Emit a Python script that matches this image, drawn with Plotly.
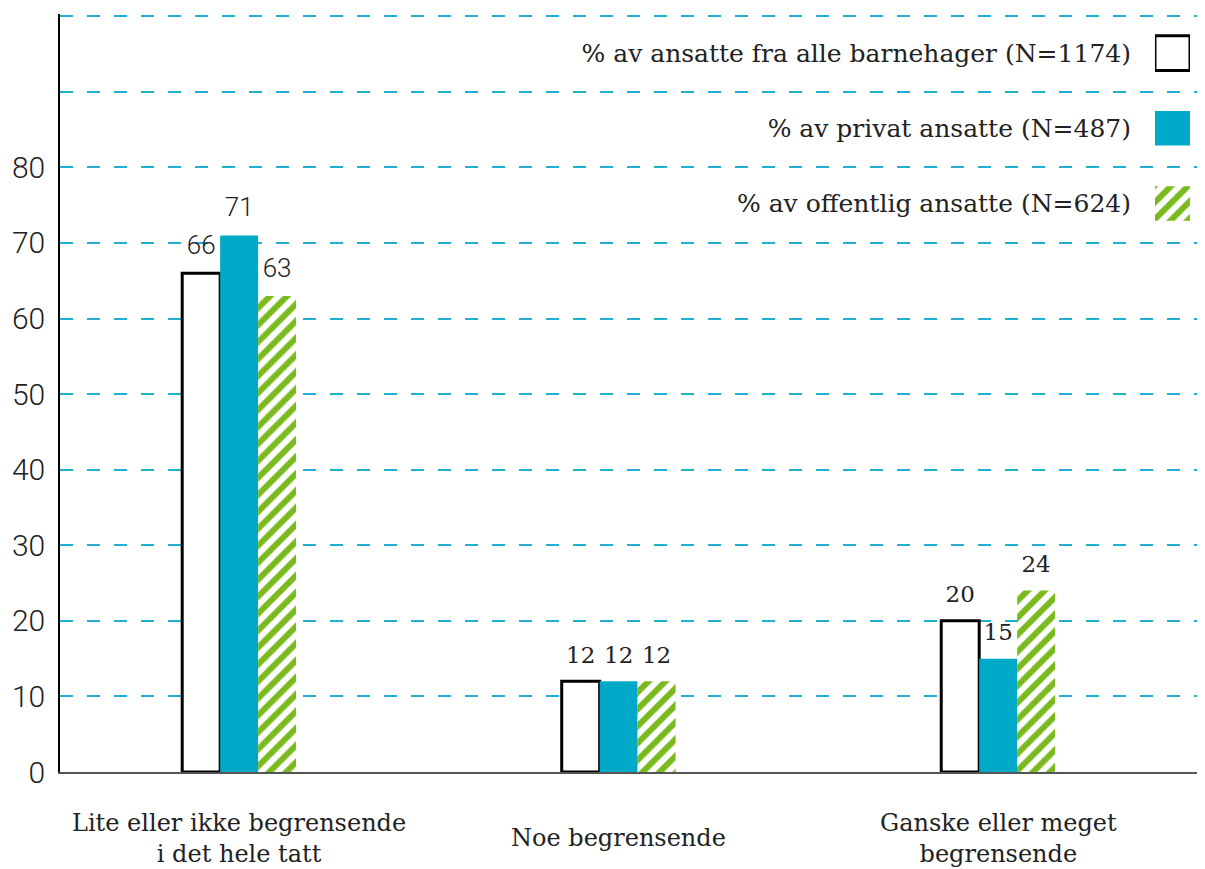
import plotly.graph_objects as go

categories = ["Lite eller ikke begrensende<br>i det hele tatt", "Noe begrensende", "Ganske eller meget<br>begrensende"]
series_names = ["% av ansatte fra alle barnehager (N=1174)", "% av privat ansatte (N=487)", "% av offentlig ansatte (N=624)"]
alle = [66, 12, 20]
privat = [71, 12, 15]
offentlig = [63, 12, 24]
ytick_vals = [0, 10, 20, 30, 40, 50, 60, 70, 80, 90, 100]
ytick_text = ["0", "10", "20", "30", "40", "50", "60", "70", "80", "", ""]

BLUE = "#00a9c7"
GREEN = "#7aba1e"
GRID = "#22b0d0"
TXT = "#222222"
SERIF = "DejaVu Serif"
SANS = "Roboto"

fig = go.Figure()

label_font = dict(family=[SANS, SERIF, SERIF], size=[26, 23, 23], color=TXT, weight=300)
pattern = dict(shape="/", fgcolor=GREEN, bgcolor="white", size=12, solidity=0.5, fillmode="replace")

fig.add_trace(go.Bar(x=categories, y=alle, name=series_names[0],
                     marker=dict(color="white", line=dict(color="black", width=3))))
fig.add_trace(go.Bar(x=categories, y=privat, name=series_names[1],
                     marker=dict(color=BLUE, line=dict(width=0))))
fig.add_trace(go.Bar(x=categories, y=offentlig, name=series_names[2],
                     marker=dict(color="white", line=dict(width=0), pattern=pattern)))

# value labels, grouped the same way as the bars
for vals in (alle, privat, offentlig):
    fig.add_trace(go.Scatter(x=categories, y=vals, mode="markers+text", text=vals,
                             textposition="top center", textfont=label_font,
                             marker=dict(size=19, color="rgba(0,0,0,0)"),
                             cliponaxis=False, hoverinfo="skip"))

# legend swatches on auxiliary axes (labels as tick text)
sw_styles = [
    dict(color="white", line=dict(color="black", width=3)),
    dict(color=BLUE, line=dict(width=0)),
    dict(color="white", line=dict(width=0), pattern=pattern),
]
for name, st in zip(series_names, sw_styles):
    fig.add_trace(go.Bar(x=[1], y=[name], base=[0], orientation="h", xaxis="x2", yaxis="y2",
                         width=[0.46], offset=[-0.23], marker=st, hoverinfo="skip"))

fig.update_layout(
    width=1197, height=861,
    margin=dict(l=52, r=0, t=6, b=97, autoexpand=False),
    paper_bgcolor="white", plot_bgcolor="rgba(0,0,0,0)",
    showlegend=False,
    barmode="group", bargap=0.7, bargroupgap=0,
    scattermode="group", scattergap=0.7,
    xaxis=dict(type="category", categoryarray=categories, range=[-0.472, 2.545],
               showticklabels=False, ticks="", showgrid=False, zeroline=False,
               showline=True, linecolor="#555555", linewidth=1.5, automargin=False),
    yaxis=dict(range=[0, 100.3], tickvals=ytick_vals, ticktext=ytick_text,
               showgrid=True, gridcolor=GRID, gridwidth=1.6, griddash="13px,14px",
               zeroline=False, showline=True, linecolor="black", linewidth=1.5,
               ticks="outside", ticklen=7, tickcolor="rgba(0,0,0,0)", automargin=False,
               tickfont=dict(family=SANS, size=30, color=TXT, weight=300)),
    xaxis2=dict(domain=[0.9563, 0.9869], range=[0, 1], visible=False, anchor="y2"),
    yaxis2=dict(domain=[0.7004, 0.998], anchor="x2", type="category", categoryarray=series_names,
                range=[2.5, -0.5], showgrid=False, zeroline=False, showline=False, automargin=False,
                ticks="outside", ticklen=18, tickcolor="rgba(0,0,0,0)",
                tickfont=dict(family=SERIF, size=25, color=TXT)),
)

for cat in categories:
    fig.add_annotation(x=cat, xref="x", y=0, yref="paper", yanchor="middle", yshift=-66,
                       text=cat, showarrow=False, align="center",
                       font=dict(family=SERIF, size=24, color=TXT))

fig.write_html("out.html")
